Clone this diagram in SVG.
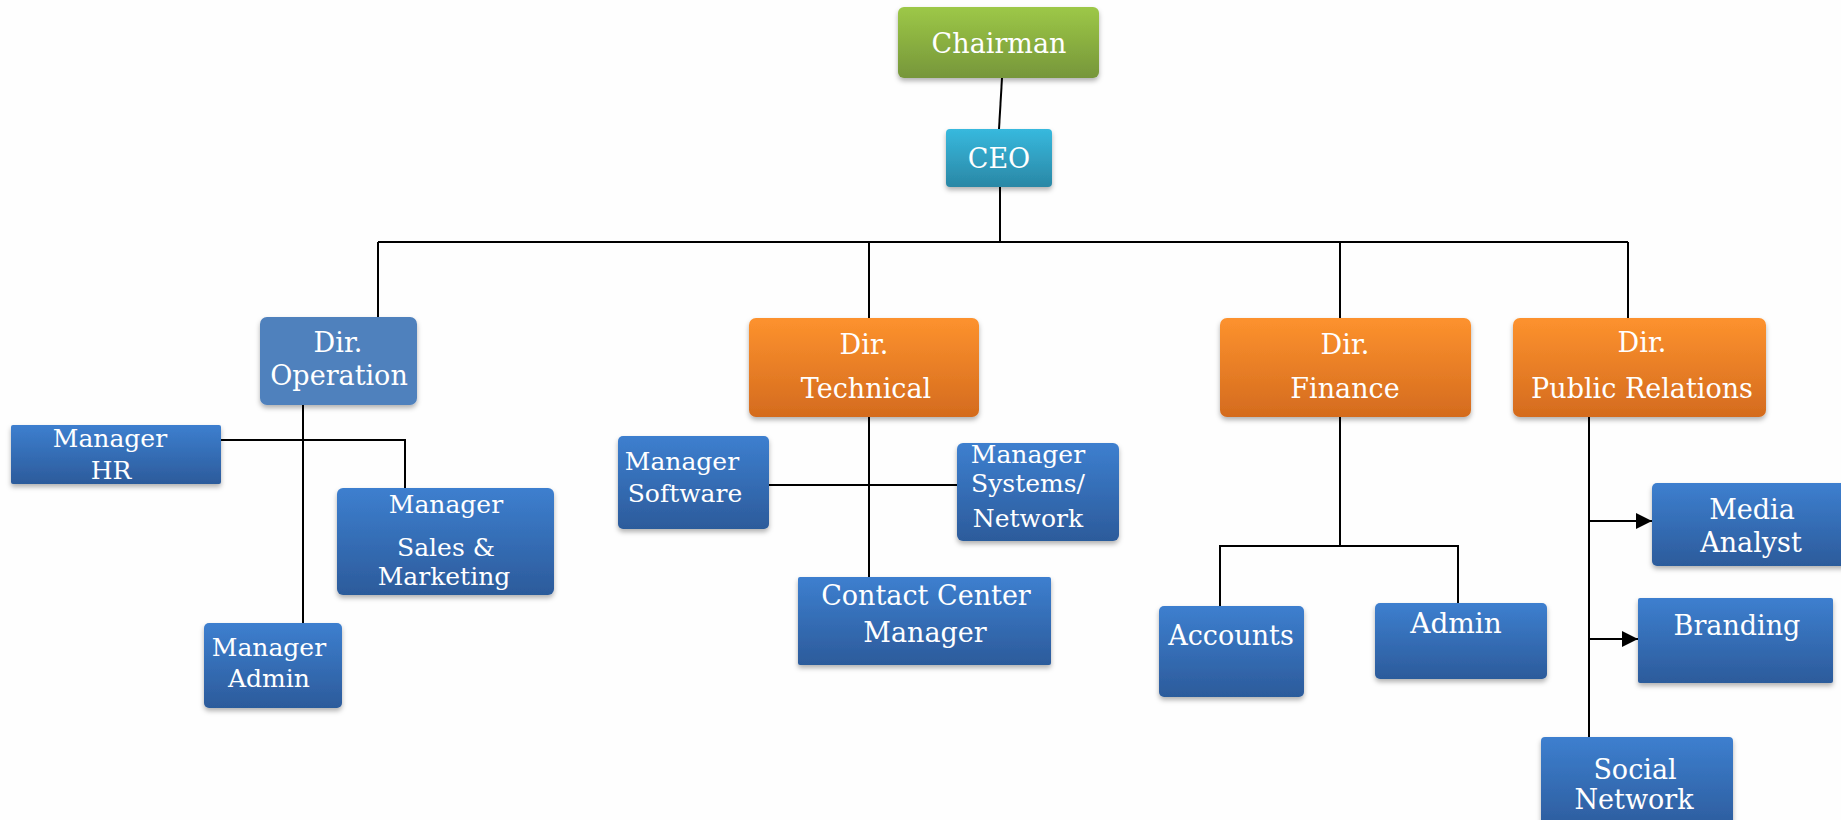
<svg xmlns="http://www.w3.org/2000/svg" width="1841" height="820" viewBox="0 0 1841 820">
<defs>
<linearGradient id="gGreen" x1="0" y1="0" x2="0" y2="1"><stop offset="0" stop-color="#9dc847"/><stop offset="1" stop-color="#76963a"/></linearGradient>
<linearGradient id="gTeal" x1="0" y1="0" x2="0" y2="1"><stop offset="0" stop-color="#37b9de"/><stop offset="1" stop-color="#2a87a5"/></linearGradient>
<linearGradient id="gOrange" x1="0" y1="0" x2="0" y2="1"><stop offset="0" stop-color="#fd922e"/><stop offset="1" stop-color="#d46b1e"/></linearGradient>
<linearGradient id="gBlue" x1="0" y1="0" x2="0" y2="1"><stop offset="0" stop-color="#3d7fcf"/><stop offset="1" stop-color="#2c5b9b"/></linearGradient>
<filter id="sh" x="-10%" y="-10%" width="120%" height="140%"><feDropShadow dx="0" dy="3" stdDeviation="2.5" flood-color="#000" flood-opacity="0.3"/></filter>
<marker id="arr" markerUnits="userSpaceOnUse" markerWidth="18" markerHeight="18" refX="16" refY="8" orient="auto"><path d="M0,0 L16,8 L0,16 Z" fill="#000"/></marker>
</defs>
<style>
.box{filter:url(#sh)}
.green{fill:url(#gGreen)}
.teal{fill:url(#gTeal)}
.steel{fill:#4f81bd}
.orange{fill:url(#gOrange)}
.blue{fill:url(#gBlue)}
text{font-family:"DejaVu Serif","Liberation Serif",serif;fill:#fff;text-anchor:middle}
.t27{font-size:27px}
.t25{font-size:25px}
.t28{font-size:28px}
.conn{stroke:#000;stroke-width:2;fill:none}
</style>
<rect width="1841" height="820" fill="#fefefe"/>
<g id="connectors">
<path class="conn" d="M1002 78 L999 129"/>
<path class="conn" d="M1000 187 V242"/>
<path class="conn" d="M378 242 H1628"/>
<path class="conn" d="M378 242 V317"/>
<path class="conn" d="M869 242 V318"/>
<path class="conn" d="M1340 242 V318"/>
<path class="conn" d="M1628 242 V318"/>
<path class="conn" d="M303 405 V623"/>
<path class="conn" d="M221 440 H405 V488"/>
<path class="conn" d="M869 417 V577"/>
<path class="conn" d="M769 485 H957"/>
<path class="conn" d="M1340 417 V546"/>
<path class="conn" d="M1220 606 V546 H1458 V603"/>
<path class="conn" d="M1589 417 V737"/>
<path class="conn" d="M1590 521 H1652" marker-end="url(#arr)"/>
<path class="conn" d="M1590 639 H1638" marker-end="url(#arr)"/>
</g>
<g id="chairman"><rect class="box green" x="898" y="7" width="201" height="71" rx="6"/><text class="t27" x="999" y="53">Chairman</text></g>
<g id="ceo"><rect class="box teal" x="946" y="129" width="106" height="58" rx="4"/><text class="t27" x="999" y="168">CEO</text></g>
<g id="dir-operation"><rect class="box steel" x="260" y="317" width="157" height="88" rx="7"/><text class="t27" x="338" y="352">Dir.</text><text class="t27" x="339" y="385">Operation</text></g>
<g id="dir-technical"><rect class="box orange" x="749" y="318" width="230" height="99" rx="7"/><text class="t27" x="864" y="354">Dir.</text><text class="t27" x="866" y="398">Technical</text></g>
<g id="dir-finance"><rect class="box orange" x="1220" y="318" width="251" height="99" rx="7"/><text class="t27" x="1345" y="354">Dir.</text><text class="t27" x="1345" y="398">Finance</text></g>
<g id="dir-pr"><rect class="box orange" x="1513" y="318" width="253" height="99" rx="7"/><text class="t27" x="1642" y="352">Dir.</text><text class="t27" x="1642" y="398">Public Relations</text></g>
<g id="mgr-hr"><rect class="box blue" x="11" y="425" width="210" height="59" rx="2"/><text class="t25" x="110" y="447">Manager</text><text class="t25" x="111" y="479">HR</text></g>
<g id="mgr-sales"><rect class="box blue" x="337" y="488" width="217" height="107" rx="6"/><text class="t25" x="446" y="513">Manager</text><text class="t25" x="446" y="556">Sales &amp;</text><text class="t25" x="444" y="585">Marketing</text></g>
<g id="mgr-admin"><rect class="box blue" x="204" y="623" width="138" height="85" rx="5"/><text class="t25" x="269" y="656">Manager</text><text class="t25" x="269" y="687">Admin</text></g>
<g id="mgr-software"><rect class="box blue" x="618" y="436" width="151" height="93" rx="5"/><text class="t25" x="682" y="470">Manager</text><text class="t25" x="685" y="502">Software</text></g>
<g id="mgr-systems"><rect class="box blue" x="957" y="443" width="162" height="98" rx="6"/><text class="t25" x="1028" y="463">Manager</text><text class="t25" x="1028" y="492">Systems/</text><text class="t25" x="1028" y="527">Network</text></g>
<g id="contact-center"><rect class="box blue" x="798" y="577" width="253" height="88" rx="2"/><text class="t27" x="926" y="605">Contact Center</text><text class="t27" x="925" y="642">Manager</text></g>
<g id="accounts"><rect class="box blue" x="1159" y="606" width="145" height="91" rx="5"/><text class="t27" x="1231" y="645">Accounts</text></g>
<g id="admin"><rect class="box blue" x="1375" y="603" width="172" height="76" rx="5"/><text class="t28" x="1456" y="633">Admin</text></g>
<g id="media-analyst"><rect class="box blue" x="1652" y="483" width="200" height="83" rx="5"/><text class="t27" x="1752" y="519">Media</text><text class="t27" x="1751" y="552">Analyst</text></g>
<g id="branding"><rect class="box blue" x="1638" y="598" width="195" height="85" rx="2"/><text class="t27" x="1737" y="635">Branding</text></g>
<g id="social-network"><rect class="box blue" x="1541" y="737" width="192" height="95" rx="4"/><text class="t27" x="1635" y="779">Social</text><text class="t27" x="1634" y="809">Network</text></g>
</svg>
